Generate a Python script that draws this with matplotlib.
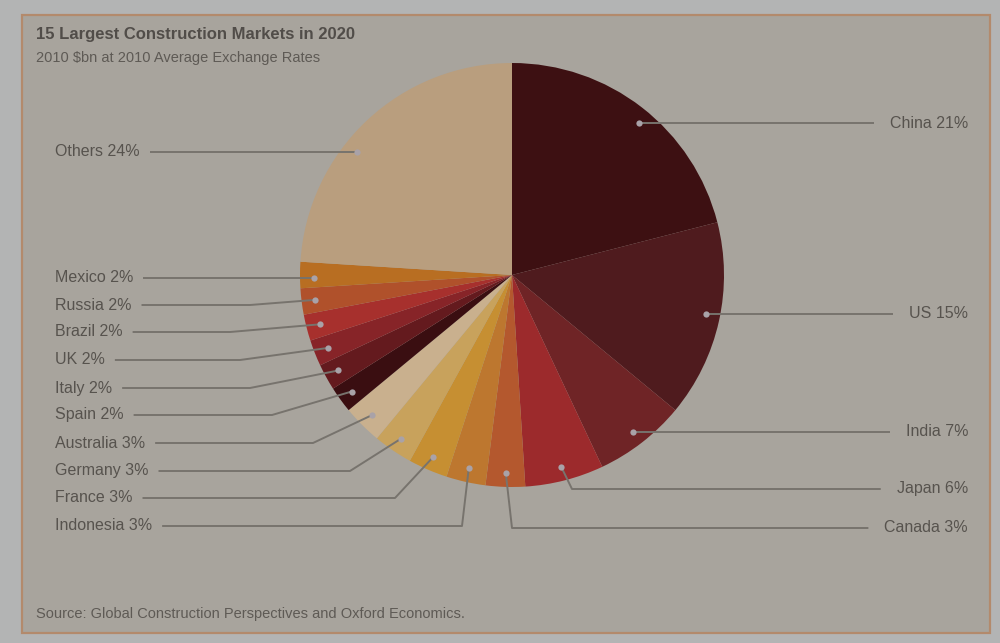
import matplotlib
matplotlib.use("Agg")
import matplotlib.pyplot as plt
import numpy as np
from matplotlib.patches import Rectangle

plt.rcParams['font.family'] = ['Liberation Sans', 'DejaVu Sans']

# ---------------- data ----------------
countries = ["China", "US", "India", "Japan", "Canada", "Indonesia", "France",
             "Germany", "Australia", "Spain", "Italy", "UK", "Brazil", "Russia",
             "Mexico", "Others"]
shares = [21, 15, 7, 6, 3, 3, 3, 3, 3, 2, 2, 2, 2, 2, 2, 24]
colors = ["#3d1012", "#4f1b1e", "#6f2426", "#9c2a2c", "#b4582e", "#bd772f",
          "#c68f32", "#c8a25c", "#c9b08e", "#3a0e11", "#641a1e", "#872428",
          "#a7302d", "#b0512b", "#b86e22", "#b99e7e"]

title = "15 Largest Construction Markets in 2020"
subtitle = "2010 $bn at 2010 Average Exchange Rates"
source = "Source: Global Construction Perspectives and Oxford Economics."

# ---------------- layout (pixel based, y measured from top) ----------------
W, H = 1000, 643
def Y(py):
    return H - py

cx, cy, R = 512, 275, 212
DOT_R = 0.935 * R

# label placement: side, label y (px), elbow (x px, y px) or None
layout = {
    "China":     ("R", 123, None),
    "US":        ("R", 314, None),
    "India":     ("R", 432, None),
    "Japan":     ("R", 489, (572, 489)),
    "Canada":    ("R", 528, (512, 528)),
    "Others":    ("L", 152, None),
    "Mexico":    ("L", 278, None),
    "Russia":    ("L", 305, (250, 305)),
    "Brazil":    ("L", 332, (230, 332)),
    "UK":        ("L", 360, (240, 360)),
    "Italy":     ("L", 388, (250, 388)),
    "Spain":     ("L", 415, (272, 415)),
    "Australia": ("L", 443, (313, 443)),
    "Germany":   ("L", 471, (350, 471)),
    "France":    ("L", 498, (395, 498)),
    "Indonesia": ("L", 526, (462, 526)),
}
LEFT_X, RIGHT_X = 55, 968
LABEL_FS = 11.5

fig = plt.figure(figsize=(10, 6.43), dpi=100)
fig.patch.set_facecolor("#b3b4b4")
ax = fig.add_axes([0, 0, 1, 1])

wedges, _ = ax.pie(shares, colors=colors, startangle=90, counterclock=False,
                   center=(cx, Y(cy)), radius=R, frame=True,
                   wedgeprops=dict(linewidth=0))
ax.set_xlim(0, W)
ax.set_ylim(0, H)
ax.set_aspect("equal")
ax.axis("off")

# panel frame
ax.add_patch(Rectangle((22, Y(633)), 968, 618, facecolor="#a8a49d",
                       edgecolor="#b38a6c", linewidth=1.6, zorder=0))

ax.text(36, Y(35), title, fontsize=12, fontweight="bold", color="#514d49",
        va="center", ha="left")
ax.text(36, Y(58), subtitle, fontsize=10.5, color="#5e5a55",
        va="center", ha="left")
ax.text(36, Y(614), source, fontsize=10.5, color="#5e5a55",
        va="center", ha="left")

fig.canvas.draw()
renderer = fig.canvas.get_renderer()
inv = ax.transData.inverted()

line_c = "#77736d"
for w, name, val in zip(wedges, countries, shares):
    side, ly, elbow = layout[name]
    t1, t2 = sorted([w.theta1, w.theta2])
    mid = (t1 + t2) / 2
    if elbow is None:
        s = np.clip((Y(ly) - Y(cy)) / DOT_R, -1, 1)
        a0 = np.rad2deg(np.arcsin(s))
        cands = np.array([a0, 180 - a0])
        cands = [((c - mid + 180) % 360) - 180 + mid for c in cands]
        ang_d = min(cands, key=lambda c: abs(c - mid))
        ang_d = np.clip(ang_d, t1 + 1, t2 - 1)
    else:
        ang_d = mid
    ang = np.deg2rad(ang_d)
    dx = cx + DOT_R * np.cos(ang)
    dy = Y(cy) + DOT_R * np.sin(ang)
    label = f"{name} {val}%"
    if side == "R":
        t = ax.text(RIGHT_X, Y(ly), label, fontsize=LABEL_FS, color="#57534e",
                    ha="right", va="center")
    else:
        t = ax.text(LEFT_X, Y(ly), label, fontsize=LABEL_FS, color="#57534e",
                    ha="left", va="center")
    bb = t.get_window_extent(renderer)
    pts = inv.transform([(bb.x0, bb.y0), (bb.x1, bb.y1)])
    x0, x1 = pts[0][0], pts[1][0]
    end = x0 - 16 if side == "R" else x1 + 10
    if elbow is None:
        xs = [dx, end]
        ys = [dy, dy]
    else:
        xs = [dx, elbow[0], end]
        ys = [dy, Y(elbow[1]), Y(ly)]
    ax.plot(xs, ys, color=line_c, linewidth=1.4, zorder=3,
            solid_capstyle="butt")
    ax.plot([dx], [dy], marker="o", markersize=4.5, color="#a9a2a8",
            markeredgewidth=0, zorder=4)

fig.savefig("out.png", dpi=100, facecolor=fig.get_facecolor())
